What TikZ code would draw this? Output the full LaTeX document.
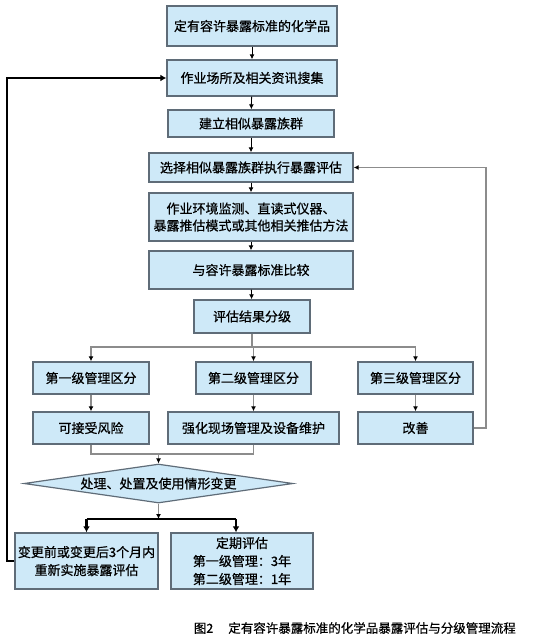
\documentclass[tikz,border=0pt]{standalone}
\usepackage{fontspec}
\setmainfont{Noto Sans CJK SC}
\newfontfamily\boxfont[FakeBold=0.6]{Noto Sans CJK SC}
\usetikzlibrary{shapes.geometric,arrows.meta}
\definecolor{boxfill}{RGB}{206,233,248}
\definecolor{boxline}{RGB}{95,108,120}
\definecolor{grayline}{RGB}{140,140,140}
\begin{document}
\begin{tikzpicture}[x=1pt,y=-1pt,
  box/.style={draw=boxline,fill=boxfill,line width=1.4pt,inner sep=0pt,align=center,
    font=\boxfont\fontsize{13}{17}\selectfont},
  blk/.style={draw=black,line width=0.9pt,-{Latex[length=5pt,width=5pt]}},
  gry/.style={draw=grayline,line width=1.1pt},
  gryarr/.style={gry,-{Latex[length=5pt,width=5pt,color=black]}},
  thk/.style={draw=black,line width=2.2pt},
  thkarr/.style={thk,-{Latex[length=6pt,width=7pt]}}
]
\useasboundingbox (0,0) rectangle (545,637);
\node[box,minimum width=170,minimum height=40] (b1) at (252,26) {定有容许暴露标准的化学品};
\node[box,minimum width=170,minimum height=36] (b2) at (252,78) {作业场所及相关资讯搜集};
\node[box,minimum width=166,minimum height=27] (b3) at (251,123.5) {建立相似暴露族群};
\node[box,minimum width=204,minimum height=29] (b4) at (251,167.5) {选择相似暴露族群执行暴露评估};
\node[box,minimum width=204,minimum height=48] (b5) at (251,217) {作业环境监测、直读式仪器、\\暴露推估模式或其他相关推估方法};
\node[box,minimum width=204,minimum height=38] (b6) at (251,270) {与容许暴露标准比较};
\node[box,minimum width=116,minimum height=33] (b7) at (252,316.5) {评估结果分级};
\node[box,minimum width=116,minimum height=32] (l1) at (91,378) {第一级管理区分};
\node[box,minimum width=115,minimum height=32] (l2) at (253.5,378) {第二级管理区分};
\node[box,minimum width=115,minimum height=32] (l3) at (415.5,378) {第三级管理区分};
\node[box,minimum width=116,minimum height=32] (a1) at (91,428) {可接受风险};
\node[box,minimum width=171,minimum height=32] (a2) at (253.5,428) {强化现场管理及设备维护};
\node[box,minimum width=115,minimum height=32] (a3) at (415.5,428) {改善};
\node[box,diamond,aspect=6.9,minimum width=269,minimum height=39,line width=1.2pt] (d) at (158.5,483.5) {处理、处置及使用情形变更};
\node[box,minimum width=143,minimum height=56,font=\boxfont\fontsize{13}{18}\selectfont] (c1) at (86.5,561) {变更前或变更后3个月内\\重新实施暴露评估};
\node[box,minimum width=142,minimum height=56,font=\boxfont\fontsize{13}{18}\selectfont] (c2) at (242,561) {定期评估\\第一级管理：3年\\第二级管理：1年};
\node[anchor=south east,inner sep=0pt,font=\boxfont\fontsize{12.5}{15}\selectfont] (cap) at (516,634) {图2\hspace{1.2em}定有容许暴露标准的化学品暴露评估与分级管理流程};
% top chain
\draw[blk] (b1) -- (b2);
\draw[blk] (b2) -- (b3);
\draw[blk] (b3) -- (b4);
\draw[blk] (b4) -- (b5);
\draw[blk] (b5) -- (b6);
\draw[blk] (b6) -- (b7);
% branch
\coordinate (br) at (252,347);
\draw[gry] (b7.south) -- (br);
\draw[gryarr] (br) -| (l1.north);
\draw[gryarr] (br) -- (br -| l2.north) -- (l2.north);
\draw[gryarr] (br) -| (l3.north);
\draw[gryarr] (l1) -- (a1);
\draw[gryarr] (l2) -- (a2);
\draw[gryarr] (l3) -- (a3);
% merge
\coordinate (mg) at (158.5,454);
\draw[gry] (a1.south) |- (mg);
\draw[gry] (a2.south) |- (mg);
\draw[gryarr] (mg) -- (d.north);
% improvement loop
\coordinate (rt) at (486,428);
\draw[gryarr] (a3.east) -- (rt) |- (b4.east);
% bottom split
\coordinate (sp) at (158.5,519);
\coordinate (sp1) at (86.5,519);
\coordinate (sp2) at (236,519);
\draw[gryarr] (d.south) -- (sp);
\draw[thk] (sp1) -- (sp2);
\draw[thkarr] (sp1) -- (sp1 |- c1.north);
\draw[thkarr] (sp2) -- (sp2 |- c2.north);
% feedback loop
\coordinate (lf) at (7,561);
\draw[thkarr] (c1.west) -- (lf) |- (b2.west);
\end{tikzpicture}
\end{document}
